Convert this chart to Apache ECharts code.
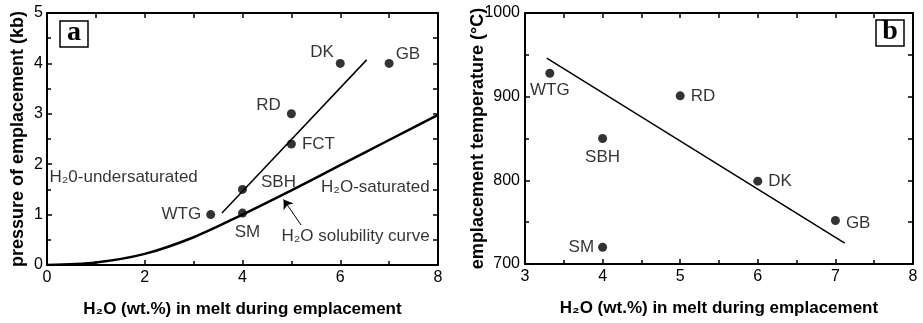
<!DOCTYPE html>
<html>
<head>
<meta charset="utf-8">
<script src="https://cdn.jsdelivr.net/npm/echarts@6/dist/echarts.min.js"></script>
<style>
html,body{margin:0;padding:0;background:#fff}
#main{width:923px;height:323px}
</style>
</head>
<body>
<div id="main"></div>
<script>
// panel a: pressure of emplacement vs H2O
var namesA = ['WTG', 'SBH', 'SM', 'FCT', 'RD', 'DK', 'GB'];
var waterA = [3.35, 4, 4, 5, 5, 6, 7];
var pressA = [1.0, 1.5, 1.03, 2.4, 3.0, 4.0, 4.0];
var fitA = [[3.58, 1.03], [6.54, 4.07]];
// H2O solubility curve
var solX = [0, 1, 2, 3, 4, 5, 6, 7, 8];
var solP = [0, 0.05, 0.22, 0.55, 1.0, 1.48, 1.98, 2.48, 2.98];
var arrowA = [[5.2, 0.79], [4.84, 1.3]];
var notesA = ['H₂0-undersaturated', 'H₂O-saturated', 'H₂O solubility curve'];
var notesAX = [0.05, 7.83, 7.83];
var notesAY = [1.73, 1.55, 0.56];

// panel b: emplacement temperature vs H2O
var namesB = ['WTG', 'SBH', 'SM', 'RD', 'DK', 'GB'];
var waterB = [3.32, 4, 4, 5, 6, 7];
var tempB = [928, 850, 720, 901, 799, 752];
var fitB = [[3.28, 946], [7.12, 725]];

var FONT = '"Liberation Sans", Arial, Helvetica, sans-serif';

// label placement for each point (style only)
var labA = {
    WTG: {position: 'left', distance: 5},
    SBH: {position: 'right', distance: 14, offset: [0, -7]},
    SM: {position: 'bottom', distance: 6, offset: [5, 0]},
    FCT: {position: 'right', distance: 6},
    RD: {position: 'left', distance: 6, offset: [0, -8]},
    DK: {position: 'left', distance: 2, offset: [0, -11]},
    GB: {position: 'right', distance: 2, offset: [0, -9]}
};
var labB = {
    WTG: {position: 'bottom', distance: 4},
    SBH: {position: 'bottom', distance: 6},
    SM: {position: 'left', distance: 4},
    RD: {position: 'right', distance: 6},
    DK: {position: 'right', distance: 6},
    GB: {position: 'right', distance: 6, offset: [0, 3]}
};

function pts(names, xs, ys, lab) {
    return names.map(function (n, i) {
        return {name: n, value: [xs[i], ys[i]], label: lab[n]};
    });
}

function axis(o) {
    return Object.assign({
        type: 'value',
        axisLine: {show: true, onZero: false, lineStyle: {color: '#000', width: 2}},
        axisTick: {show: true, inside: true, length: 5, lineStyle: {color: '#000', width: 1.5}},
        minorTick: {show: false},
        splitLine: {show: false},
        axisLabel: {show: false},
        nameMoveOverlap: false
    }, o);
}

var tickLab = {show: true, color: '#000', fontSize: 16, fontFamily: FONT,
    formatter: function (v) { return String(v); }};
var minor = {show: true, splitNumber: 2, length: 4, lineStyle: {color: '#000', width: 1.5}};
var nameStyle = {color: '#000', fontSize: 18, fontWeight: 'bold', fontFamily: FONT};
var xNameStyle = {color: '#000', fontSize: 17, fontWeight: 'bold', fontFamily: FONT};
var ptLabel = {show: true, color: '#000', fontSize: 17, fontFamily: FONT, formatter: '{b}'};

var myChart = echarts.init(document.getElementById('main'));

option = {
    animation: false,
    grid: [
        {left: 47, top: 13, width: 391, height: 252},
        {left: 525, top: 13, width: 388, height: 251}
    ],
    xAxis: [
        axis({gridIndex: 0, min: 0, max: 8, interval: 2, minorTick: minor,
            axisLabel: Object.assign({margin: 5}, tickLab),
            name: 'H₂O (wt.%) in melt during emplacement', nameLocation: 'middle', nameGap: 36, nameTextStyle: xNameStyle}),
        axis({gridIndex: 0, position: 'top', min: 0, max: 8, interval: 1}),
        axis({gridIndex: 1, min: 3, max: 8, interval: 1, minorTick: minor,
            axisLabel: Object.assign({margin: 5}, tickLab),
            name: 'H₂O (wt.%) in melt during emplacement', nameLocation: 'middle', nameGap: 36, nameTextStyle: xNameStyle}),
        axis({gridIndex: 1, position: 'top', min: 3, max: 8, interval: 0.5})
    ],
    yAxis: [
        axis({gridIndex: 0, min: 0, max: 5, interval: 1, minorTick: minor,
            axisLabel: Object.assign({margin: 4}, tickLab),
            name: 'pressure of emplacement (kb)', nameLocation: 'middle', nameGap: 20, nameTextStyle: nameStyle}),
        axis({gridIndex: 0, position: 'right', min: 0, max: 5, interval: 0.5}),
        axis({gridIndex: 1, min: 700, max: 1000, interval: 100, minorTick: minor,
            axisLabel: Object.assign({margin: 5}, tickLab),
            name: 'emplacement temperature (°C)', nameLocation: 'middle', nameGap: 38, nameTextStyle: nameStyle}),
        axis({gridIndex: 1, position: 'right', min: 700, max: 1000, interval: 50})
    ],
    graphic: [
        {type: 'rect', x: 60, y: 21, shape: {width: 28, height: 26}, style: {fill: '#fff', stroke: '#000', lineWidth: 1.5}},
        {type: 'text', x: 74, y: 33, style: {text: 'a', font: 'bold 28px "Liberation Serif", "DejaVu Serif", serif', align: 'center', verticalAlign: 'middle', fill: '#000'}},
        {type: 'rect', x: 876, y: 20, shape: {width: 28, height: 26}, style: {fill: '#fff', stroke: '#000', lineWidth: 1.5}},
        {type: 'text', x: 890, y: 32, style: {text: 'b', font: 'bold 28px "Liberation Serif", "DejaVu Serif", serif', align: 'center', verticalAlign: 'middle', fill: '#000'}}
    ],
    series: [
        {
            name: 'solubility',
            type: 'line',
            xAxisIndex: 0, yAxisIndex: 0,
            smooth: 0.3,
            showSymbol: false,
            lineStyle: {color: '#000', width: 2.5},
            data: solX.map(function (x, i) { return [x, solP[i]]; }),
            markLine: {
                silent: true,
                symbol: ['none', 'arrow'],
                symbolSize: 9,
                label: {show: false},
                lineStyle: {color: '#000', width: 1, type: 'solid'},
                data: [[{coord: arrowA[0]}, {coord: arrowA[1]}]]
            }
        },
        {
            name: 'fitA',
            type: 'line',
            xAxisIndex: 0, yAxisIndex: 0,
            showSymbol: false,
            lineStyle: {color: '#000', width: 1.5},
            data: fitA
        },
        {
            name: 'plutonsA',
            type: 'scatter',
            xAxisIndex: 0, yAxisIndex: 0,
            symbolSize: 9,
            itemStyle: {color: '#000'},
            label: ptLabel,
            data: pts(namesA, waterA, pressA, labA)
        },
        {
            name: 'notesA',
            type: 'scatter',
            xAxisIndex: 0, yAxisIndex: 0,
            symbolSize: 0,
            silent: true,
            label: {show: true, color: '#000', fontSize: 17, fontFamily: FONT, formatter: '{b}', distance: 0},
            data: notesA.map(function (t, i) {
                return {name: t, value: [notesAX[i], notesAY[i]], label: {position: i === 0 ? 'right' : 'left'}};
            })
        },
        {
            name: 'fitB',
            type: 'line',
            xAxisIndex: 2, yAxisIndex: 2,
            showSymbol: false,
            lineStyle: {color: '#000', width: 1.5},
            data: fitB
        },
        {
            name: 'plutonsB',
            type: 'scatter',
            xAxisIndex: 2, yAxisIndex: 2,
            symbolSize: 9,
            itemStyle: {color: '#000'},
            label: ptLabel,
            data: pts(namesB, waterB, tempB, labB)
        }
    ]
};

myChart.setOption(option);
</script>
</body>
</html>
